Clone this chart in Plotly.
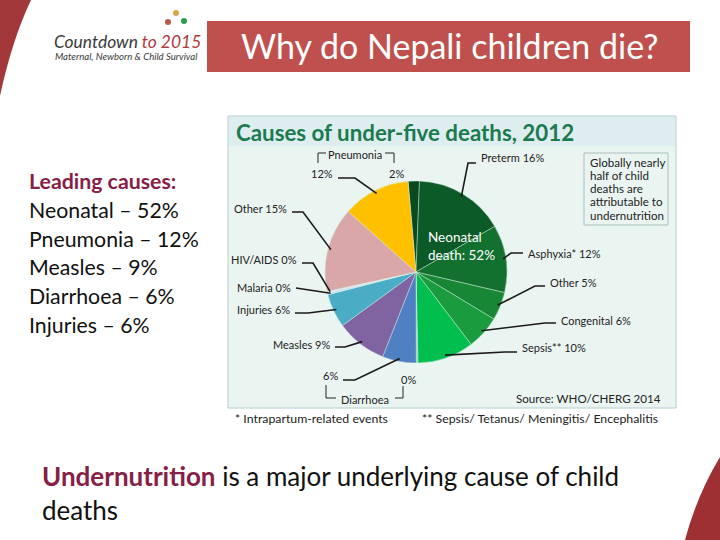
import math
import plotly.graph_objects as go

# ---------------- data ----------------
causes = ["Pneumonia (neonatal)", "Preterm", "Asphyxia*", "Other (neonatal)",
          "Congenital", "Sepsis**", "Diarrhoea (neonatal)", "Diarrhoea",
          "Measles", "Injuries", "Malaria", "HIV/AIDS", "Other", "Pneumonia"]
shares = [2, 16, 12, 5, 6, 10, 0.3, 6, 9, 6, 0.3, 0.3, 15, 12]
label_text = ["2%", "Preterm 16%", "Asphyxia* 12%", "Other 5%", "Congenital 6%",
              "Sepsis** 10%", "0%", "6%", "Measles 9%", "Injuries 6%",
              "Malaria 0%", "HIV/AIDS 0%", "Other 15%", "12%"]
slice_colors = ["#0a4a20", "#0b5a28", "#12712f", "#178736", "#1a9c3e",
                "#00bf4f", "#7fd6a0", "#4f80c4", "#8064a2", "#4bacc6",
                "#c5d9f1", "#dce6f2", "#d9a7a7", "#ffc000"]
leading_causes = ["Neonatal \u2013 52%", "Pneumonia \u2013 12%", "Measles \u2013 9%",
                  "Diarrhoea \u2013 6%", "Injuries \u2013 6%"]
globally_lines = ["Globally nearly", "half of child", "deaths are",
                  "attributable to", "undernutrition"]

# ---------------- layout helpers (pixel -> paper) ----------------
W, H = 720, 540
def px(x):
    return x / W
def py(y):
    return 1 - y / H

FONT = "Lato"
CX, CY, R = 416, 272, 91
ROT = -5.0

# label placement: (elbow, end, text x, text y, anchor) ; None = no leader
label_layout = [
    (None, None, 396, 174, "center"),
    ((468, 163), (476, 163), 479, 158, "left"),
    ((511, 253), (523, 253), 526, 253, "left"),
    ((535, 286), (545, 286), 548, 282, "left"),
    ((545, 323), (556, 323), 559, 320, "left"),
    ((505, 352), (517, 352), 520, 347, "left"),
    (None, None, 408, 379, "center"),
    ((355, 380), (343, 380), 340, 375, "right"),
    ((345, 347), (335, 347), 332, 344, "right"),
    ((308, 313), (295, 313), 292, 309, "right"),
    ((296, 288), (296, 288), 293, 287, "right"),
    ((313, 263), (302, 263), 299, 260, "right"),
    ((303, 212), (292, 212), 289, 208, "right"),
    ((355, 178), (338, 178), 335, 174, "right"),
]

fig = go.Figure()
fig.add_trace(go.Pie(
    labels=causes, values=shares, sort=False, direction="clockwise",
    rotation=ROT, textinfo="none", hoverinfo="label+percent",
    marker=dict(colors=slice_colors, line=dict(color="rgba(220,240,228,0.6)", width=0.7)),
    domain=dict(x=[px(CX - R), px(CX + R)], y=[py(CY + R), py(CY - R)]),
    showlegend=False,
))

shapes = []
annotations = []

def note(x, y, text, size, color="#222222", anchor="left", **kw):
    annotations.append(dict(x=px(x), y=py(y), xref="paper", yref="paper",
                            text=text, showarrow=False,
                            font=dict(family=FONT, size=size, color=color),
                            xanchor=anchor, yanchor="middle", **kw))

# decorative swooshes
shapes.append(dict(type="path", xref="paper", yref="paper",
                   path=f"M 0,{py(0)} L {px(31)},{py(0)} Q {px(12)},{py(40)} 0,{py(96)} Z",
                   fillcolor="#a3383b", line=dict(width=0)))
shapes.append(dict(type="path", xref="paper", yref="paper",
                   path=f"M {px(720)},{py(457)} Q {px(697)},{py(495)} {px(685)},{py(540)} L {px(720)},{py(540)} Z",
                   fillcolor="#9e2f33", line=dict(width=0)))

# title box
shapes.append(dict(type="rect", xref="paper", yref="paper",
                   x0=px(207), x1=px(690), y0=py(72), y1=py(21),
                   fillcolor="#c0504d", line=dict(width=0)))
note(450, 46, "Why do Nepali children die?", 34, "white", "center")

# logo
note(52, 41, "<i>Countdown <span style='color:#b0393b'>to 2015</span></i>", 17.4, "#3a3a3a")
note(53, 57, "<i>Maternal, Newborn & Child Survival</i>", 9.6, "#3a3a3a")
for (lx, ly, lc) in [(168, 22, "#b85a4a"), (176, 13, "#d8a848"), (184, 21, "#2f9a48")]:
    shapes.append(dict(type="circle", xref="paper", yref="paper",
                       x0=px(lx - 3), x1=px(lx + 3), y0=py(ly + 3), y1=py(ly - 3),
                       fillcolor=lc, line=dict(width=0)))

# leading causes
note(27, 181, "<b>Leading causes:</b>", 21.3, "#862046")
for i, t in enumerate(leading_causes):
    note(27, 210 + i * 28.7, t, 21.3, "#111111")

# bottom text
note(40, 476, "<span style='color:#862046'><b>Undernutrition</b></span> is a major underlying cause of child",
     26, "#111111")
note(40, 510, "deaths", 26, "#111111")

# chart panel
shapes.insert(0, dict(type="rect", xref="paper", yref="paper", layer="below",
                      x0=px(228), x1=px(676), y0=py(408), y1=py(116),
                      fillcolor="#eaf5f2", line=dict(color="#b4cdd1", width=1)))
shapes.insert(1, dict(type="rect", xref="paper", yref="paper", layer="below",
                      x0=px(229), x1=px(675), y0=py(146), y1=py(117),
                      fillcolor="#deedf0", line=dict(width=0)))
note(234, 132, "<b>Causes of under-five deaths, 2012</b>", 22.3, "#1b7a4e")

# globally box
shapes.append(dict(type="rect", xref="paper", yref="paper",
                   x0=px(584), x1=px(668), y0=py(225), y1=py(153),
                   fillcolor="rgba(0,0,0,0)", line=dict(color="#a9bfbf", width=1)))
for i, t in enumerate(globally_lines):
    note(588, 162 + i * 13.3, t, 11.6)

# source & footnotes
note(663, 398, "Source: WHO/CHERG 2014", 11.6, anchor="right")
note(233, 418, "* Intrapartum-related events", 12.3)
note(420, 418, "** Sepsis/ Tetanus/ Meningitis/ Encephalitis", 12.3)

# neonatal label inside pie
note(426, 246, "Neonatal<br>death: 52%", 13.5, "white", align="left")

# slice labels with leader lines from each slice's mid-angle
total = sum(shares)
cum = 0.0
LINE = dict(color="#1a1a1a", width=1.6)
for val, txt, lay in zip(shares, label_text, label_layout):
    mid = ROT + (cum + val / 2) / total * 360.0
    cum += val
    elbow, end, tx, ty, anchor = lay
    if elbow is not None:
        a = math.radians(mid)
        sx = CX + (R - 3) * math.sin(a)
        sy = CY - (R - 3) * math.cos(a)
        shapes.append(dict(type="path", xref="paper", yref="paper",
                           path=f"M {px(sx)},{py(sy)} L {px(elbow[0])},{py(elbow[1])} L {px(end[0])},{py(end[1])}",
                           line=LINE))
    note(tx, ty, txt, 11, anchor=anchor)

# brackets
BR = dict(color="#222222", width=1)
shapes.append(dict(type="path", xref="paper", yref="paper",
                   path=f"M {px(318)},{py(163)} L {px(318)},{py(153)} L {px(326)},{py(153)} "
                        f"M {px(385)},{py(153)} L {px(394)},{py(153)} L {px(394)},{py(163)}",
                   line=BR))
note(355, 154, "Pneumonia", 11, anchor="center")
shapes.append(dict(type="path", xref="paper", yref="paper",
                   path=f"M {px(326)},{py(385)} L {px(326)},{py(398)} L {px(336)},{py(398)} "
                        f"M {px(395)},{py(398)} L {px(403)},{py(398)} L {px(403)},{py(386)}",
                   line=BR))
note(365, 399, "Diarrhoea", 11, anchor="center")

fig.update_layout(width=W, height=H, margin=dict(l=0, r=0, t=0, b=0),
                  paper_bgcolor="white", plot_bgcolor="white",
                  shapes=shapes, annotations=annotations, showlegend=False,
                  font=dict(family=FONT))
fig.write_html("out.html", config={"displayModeBar": False},
               post_script="document.body.style.margin='0';")
